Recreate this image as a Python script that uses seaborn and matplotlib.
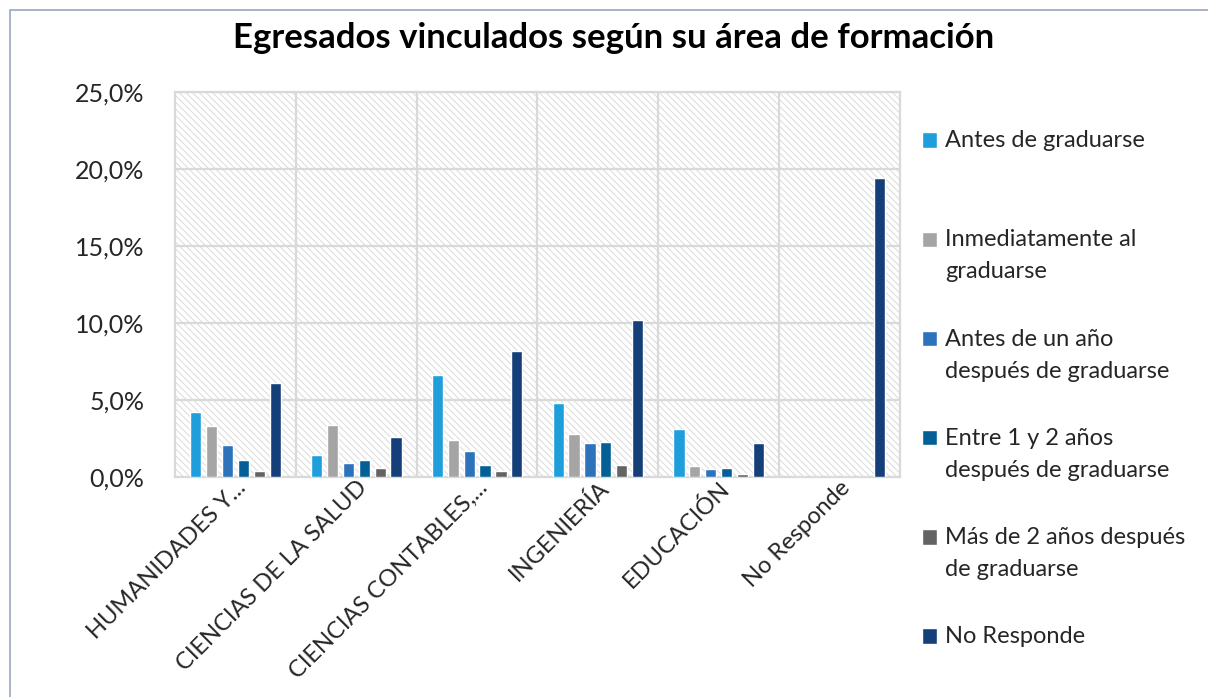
import numpy as np
import pandas as pd
import matplotlib
matplotlib.use("Agg")
import matplotlib.pyplot as plt
import seaborn as sns
from matplotlib.patches import Rectangle
from matplotlib.legend_handler import HandlerPatch
from matplotlib.ticker import FuncFormatter, MultipleLocator

# Data (percent of graduates)
categories = ["HUMANIDADES Y...", "CIENCIAS DE LA SALUD", "CIENCIAS CONTABLES,...",
              "INGENIERÍA", "EDUCACIÓN", "No Responde"]
series = ["Antes de graduarse", "Inmediatamente al graduarse",
          "Antes de un año después de graduarse", "Entre 1 y 2 años después de graduarse",
          "Más de 2 años después de graduarse", "No Responde"]
# legend text wrapped like the original (every entry takes two lines)
legend_labels = ["Antes de graduarse\n", "Inmediatamente al\ngraduarse",
                 "Antes de un año\ndespués de graduarse", "Entre 1 y 2 años\ndespués de graduarse",
                 "Más de 2 años después\nde graduarse", "No Responde\n"]

antes = [4.2, 1.4, 6.6, 4.8, 3.1, 0.0]
inmediatamente = [3.3, 3.4, 2.4, 2.8, 0.7, 0.0]
antes_un_ano = [2.1, 0.9, 1.7, 2.2, 0.5, 0.0]
entre_1_2 = [1.1, 1.1, 0.8, 2.3, 0.6, 0.0]
mas_2 = [0.4, 0.6, 0.4, 0.8, 0.2, 0.0]
no_responde = [6.1, 2.6, 8.2, 10.2, 2.2, 19.4]

colors = ["#1E9FDC", "#A5A5A5", "#2C73BC", "#045F96", "#636363", "#153F78"]

values = [antes, inmediatamente, antes_un_ano, entre_1_2, mas_2, no_responde]
rows = []
for s, vals in zip(series, values):
    for c, v in zip(categories, vals):
        rows.append({"area": c, "serie": s, "valor": v})
df = pd.DataFrame(rows)

sns.set_theme(style="white")
plt.rcParams['font.family'] = ['Lato', 'DejaVu Sans']
plt.rcParams['hatch.color'] = '#dadada'
plt.rcParams['hatch.linewidth'] = 0.7

LEG_FS = 17
LINESP = 1.65


def first_line_patch(legend, orig_handle, xdescent, ydescent, width, height, fontsize):
    # put the colour box next to the first line of a two-line label
    shift = 0.5 * LINESP * fontsize * 0.86
    return Rectangle((-xdescent, -ydescent + shift), width, height)


fig = plt.figure(figsize=(12.08, 6.97), dpi=100)
ax = fig.add_axes([0.1449, 0.3156, 0.6001, 0.5524])

# hatched plot-area background
ax.patch.set_facecolor('white')
ax.patch.set_hatch('\\\\\\\\\\')
ax.patch.set_edgecolor('#dadada')
ax.patch.set_linewidth(0)

sns.barplot(data=df, x="area", y="valor", hue="serie", palette=colors,
            width=0.79, gap=0.3, saturation=1, ax=ax, zorder=3, legend=True)

ax.set_ylim(0, 25)
ax.set_xlim(-0.5, len(categories) - 0.5)
ax.yaxis.set_major_locator(MultipleLocator(5))
ax.yaxis.set_major_formatter(FuncFormatter(lambda v, p: f"{v:.1f}%".replace(".", ",")))
ax.set_xticks(np.arange(len(categories) - 1) + 0.5, minor=True)
ax.grid(True, axis='y', which='major', color='#d9d9d9', lw=1.6, zorder=1)
ax.grid(True, axis='x', which='minor', color='#d9d9d9', lw=1.6, zorder=1)
ax.set_axisbelow(True)
for sp in ax.spines.values():
    sp.set_color('#d9d9d9')
    sp.set_linewidth(1.6)

ax.set_xlabel("")
ax.set_ylabel("")
ax.tick_params(axis='both', which='both', length=0, labelsize=18, colors='#262626')
ax.tick_params(axis='x', labelsize=17, pad=0)
ax.tick_params(axis='y', pad=22)
for lbl in ax.get_xticklabels():
    lbl.set_rotation(45)
    lbl.set_ha('right')
    lbl.set_rotation_mode('anchor')

handles, _ = ax.get_legend_handles_labels()
hmap = {h: HandlerPatch(patch_func=first_line_patch) for h in handles}
leg = ax.legend(handles, legend_labels, loc='upper left', bbox_to_anchor=(0.763, 0.813),
                bbox_transform=fig.transFigure, frameon=False, fontsize=LEG_FS,
                borderpad=0, borderaxespad=0,
                labelspacing=1.95, handlelength=0.65, handleheight=0.65, handletextpad=0.34,
                labelcolor='#262626', handler_map=hmap)
for t in leg.get_texts():
    t.set_linespacing(LINESP)

fig.text(0.508, 0.945, "Egresados vinculados según su área de formación",
         ha='center', va='center', fontsize=25, fontweight='bold', color='black')

# outer chart border
fig.patches.append(Rectangle((10 / 1208, -0.01), 1.0, 1 - 10 / 697 + 0.01,
                             transform=fig.transFigure, fill=False,
                             edgecolor='#9aa8bd', lw=1.2))

fig.savefig("out.png", dpi=100)
